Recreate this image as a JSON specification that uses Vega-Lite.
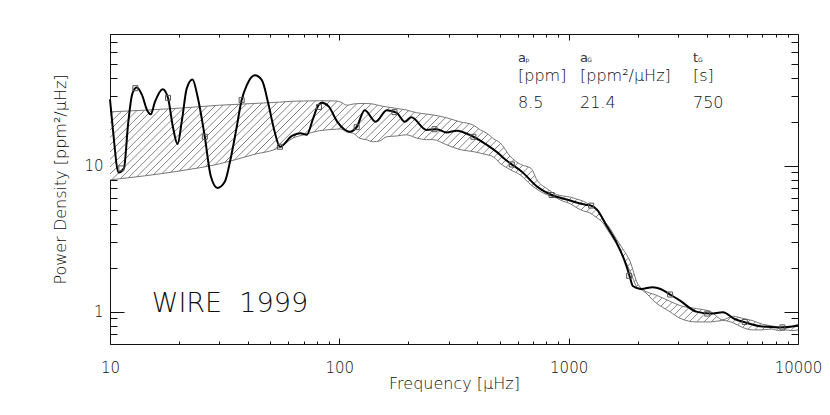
{
"$schema":"https://vega.github.io/schema/vega-lite/v6.json",
"width":688,"height":310,
"autosize":{"type":"none"},
"padding":{"left":110,"top":34,"right":32,"bottom":71},
"background":"white",
"config":{"view":{"stroke":null},"axis":{"domainColor":"#111","tickColor":"#111","domainWidth":1,"tickWidth":1,"labelFont":"DejaVu Sans","titleFont":"DejaVu Sans","labelFontSize":15,"titleFontSize":16,"labelColor":"#111","titleColor":"#111","titleFontWeight":200,"labelFontWeight":200,"grid":false,"zindex":1}},
"datasets":{
"band":[{"f":10,"lo":8.0,"hi":23.4},{"f":20,"lo":9.2,"hi":24.8},{"f":30,"lo":10.3,"hi":26.0},{"f":42,"lo":11.9,"hi":26.7},{"f":55,"lo":13.4,"hi":27.3},{"f":63,"lo":15.5,"hi":27.7},{"f":70,"lo":16.3,"hi":27.8},{"f":82,"lo":17.4,"hi":27.9},{"f":97,"lo":17.8,"hi":27.8},{"f":101,"lo":17.9,"hi":27.4},{"f":108,"lo":17.0,"hi":26.0},{"f":115,"lo":16.7,"hi":26.5},{"f":123,"lo":15.4,"hi":26.7},{"f":131,"lo":15.1,"hi":26.7},{"f":140,"lo":14.6,"hi":26.5},{"f":150,"lo":14.8,"hi":25.8},{"f":161,"lo":15.8,"hi":25.3},{"f":178,"lo":16.0,"hi":24.7},{"f":196,"lo":16.3,"hi":24.1},{"f":217,"lo":15.5,"hi":23.1},{"f":240,"lo":15.1,"hi":22.6},{"f":256,"lo":15.1,"hi":22.3},{"f":294,"lo":13.9,"hi":21.3},{"f":336,"lo":12.9,"hi":20.0},{"f":384,"lo":12.5,"hi":19.0},{"f":412,"lo":12.2,"hi":17.6},{"f":440,"lo":11.9,"hi":16.7},{"f":470,"lo":11.5,"hi":15.3},{"f":502,"lo":10.4,"hi":14.4},{"f":556,"lo":9.4,"hi":11.6},{"f":618,"lo":8.6,"hi":10.2},{"f":685,"lo":7.4,"hi":9.6},{"f":727,"lo":6.9,"hi":8.0},{"f":800,"lo":6.35,"hi":7.0},{"f":887,"lo":6.0,"hi":6.35},{"f":946,"lo":5.71,"hi":6.2},{"f":1016,"lo":5.5,"hi":6.1},{"f":1087,"lo":5.14,"hi":5.9},{"f":1160,"lo":4.9,"hi":5.71},{"f":1236,"lo":4.76,"hi":5.4},{"f":1300,"lo":4.5,"hi":5.15},{"f":1408,"lo":4.07,"hi":4.3},{"f":1500,"lo":3.5,"hi":3.8},{"f":1618,"lo":2.89,"hi":3.13},{"f":1720,"lo":2.4,"hi":2.7},{"f":1850,"lo":1.9,"hi":2.22},{"f":2000,"lo":1.45,"hi":1.55},{"f":2100,"lo":1.40,"hi":1.42},{"f":2400,"lo":1.15,"hi":1.30},{"f":2760,"lo":1.0,"hi":1.18},{"f":3060,"lo":0.9,"hi":1.1},{"f":3600,"lo":0.85,"hi":1.05},{"f":4155,"lo":0.85,"hi":1.0},{"f":4700,"lo":0.87,"hi":0.88},{"f":5200,"lo":0.84,"hi":0.93},{"f":5720,"lo":0.78,"hi":0.9},{"f":6300,"lo":0.75,"hi":0.87},{"f":7000,"lo":0.75,"hi":0.82},{"f":7650,"lo":0.76,"hi":0.80},{"f":8300,"lo":0.74,"hi":0.78},{"f":8850,"lo":0.75,"hi":0.77},{"f":9400,"lo":0.74,"hi":0.79},{"f":10000,"lo":0.75,"hi":0.82}],
"curve":[{"f":10,"p":28.5},{"f":10.3,"p":17.6},{"f":10.9,"p":9.0},{"f":11.5,"p":9.6},{"f":12.0,"p":19.5},{"f":12.5,"p":31},{"f":13.07,"p":34.4},{"f":13.8,"p":30.5},{"f":14.5,"p":24.1},{"f":15.05,"p":22.5},{"f":15.7,"p":27.4},{"f":16.97,"p":33.5},{"f":17.9,"p":29.2},{"f":18.8,"p":18.5},{"f":19.7,"p":14.1},{"f":20.6,"p":20.6},{"f":21.6,"p":33.8},{"f":22.9,"p":39},{"f":24.1,"p":29.7},{"f":25.9,"p":15.8},{"f":27.5,"p":8.5},{"f":29.4,"p":7.05},{"f":31.7,"p":7.8},{"f":33.5,"p":11.0},{"f":35.5,"p":17.6},{"f":37.5,"p":28.2},{"f":39.5,"p":35.7},{"f":42.8,"p":41.7},{"f":46,"p":38.5},{"f":49,"p":26.7},{"f":52,"p":17.6},{"f":55.1,"p":13.5},{"f":62.1,"p":16.0},{"f":67.5,"p":16.7},{"f":72.1,"p":16.3},{"f":76.5,"p":20.6},{"f":80,"p":25.0},{"f":83.9,"p":27.0},{"f":90,"p":25.4},{"f":98,"p":20},{"f":105,"p":17.8},{"f":111,"p":17.1},{"f":119,"p":18.4},{"f":129,"p":24},{"f":144,"p":20},{"f":161,"p":24},{"f":178,"p":23},{"f":193,"p":20},{"f":206,"p":21.5},{"f":240,"p":17.6},{"f":266,"p":17.8},{"f":294,"p":16.9},{"f":325,"p":17.4},{"f":384,"p":15.8},{"f":440,"p":13.9},{"f":502,"p":11.9},{"f":520,"p":11.3},{"f":635,"p":8.9},{"f":727,"p":7.2},{"f":843,"p":6.3},{"f":979,"p":5.87},{"f":1175,"p":5.42},{"f":1253,"p":5.33},{"f":1329,"p":5.0},{"f":1466,"p":3.86},{"f":1618,"p":2.97},{"f":1786,"p":2.06},{"f":1850,"p":1.72},{"f":1903,"p":1.50},{"f":2071,"p":1.43},{"f":2325,"p":1.47},{"f":2518,"p":1.43},{"f":2768,"p":1.31},{"f":3060,"p":1.19},{"f":3600,"p":1.0},{"f":4155,"p":0.97},{"f":4700,"p":0.99},{"f":5300,"p":0.89},{"f":5945,"p":0.84},{"f":7000,"p":0.79},{"f":8300,"p":0.78},{"f":10000,"p":0.80}],
"pts":[{"f":11.2,"p":9.6},{"f":12.9,"p":34},{"f":17.9,"p":29.2},{"f":25.9,"p":15.8},{"f":37.5,"p":28.2},{"f":55.1,"p":13.5},{"f":81.5,"p":25.3},{"f":119,"p":18.4},{"f":174,"p":23.3},{"f":260,"p":17.8},{"f":384,"p":15.8},{"f":565,"p":10.2},{"f":843,"p":6.3},{"f":1253,"p":5.33},{"f":1835,"p":1.76},{"f":2768,"p":1.31},{"f":4021,"p":0.97},{"f":5860,"p":0.85},{"f":8550,"p":0.78}]
},
"resolve":{"axis":{"x":"independent","y":"independent"}},
"layer":[
{"data":{"name":"band"},
 "mark":{"type":"area","interpolate":"monotone","stroke":null,"fill":{"gradient":"linear","x1":0,"y1":0,"x2":1.2002,"y2":0.4015,"stops":[
{"offset":0,"color":"#777"},{"offset":0.001,"color":"#fff"},
{"offset":0.007,"color":"#fff"},{"offset":0.008,"color":"#777"},{"offset":0.009,"color":"#fff"},
{"offset":0.015,"color":"#fff"},{"offset":0.016,"color":"#777"},{"offset":0.017,"color":"#fff"},
{"offset":0.023,"color":"#fff"},{"offset":0.024,"color":"#777"},{"offset":0.025,"color":"#fff"},
{"offset":0.031,"color":"#fff"},{"offset":0.032,"color":"#777"},{"offset":0.033,"color":"#fff"},
{"offset":0.039,"color":"#fff"},{"offset":0.040,"color":"#777"},{"offset":0.041,"color":"#fff"},
{"offset":0.047,"color":"#fff"},{"offset":0.048,"color":"#777"},{"offset":0.049,"color":"#fff"},
{"offset":0.055,"color":"#fff"},{"offset":0.056,"color":"#777"},{"offset":0.057,"color":"#fff"},
{"offset":0.063,"color":"#fff"},{"offset":0.064,"color":"#777"},{"offset":0.065,"color":"#fff"},
{"offset":0.071,"color":"#fff"},{"offset":0.072,"color":"#777"},{"offset":0.073,"color":"#fff"},
{"offset":0.079,"color":"#fff"},{"offset":0.080,"color":"#777"},{"offset":0.081,"color":"#fff"},
{"offset":0.087,"color":"#fff"},{"offset":0.088,"color":"#777"},{"offset":0.089,"color":"#fff"},
{"offset":0.095,"color":"#fff"},{"offset":0.096,"color":"#777"},{"offset":0.097,"color":"#fff"},
{"offset":0.103,"color":"#fff"},{"offset":0.104,"color":"#777"},{"offset":0.105,"color":"#fff"},
{"offset":0.111,"color":"#fff"},{"offset":0.112,"color":"#777"},{"offset":0.113,"color":"#fff"},
{"offset":0.119,"color":"#fff"},{"offset":0.120,"color":"#777"},{"offset":0.121,"color":"#fff"},
{"offset":0.127,"color":"#fff"},{"offset":0.128,"color":"#777"},{"offset":0.129,"color":"#fff"},
{"offset":0.135,"color":"#fff"},{"offset":0.136,"color":"#777"},{"offset":0.137,"color":"#fff"},
{"offset":0.143,"color":"#fff"},{"offset":0.144,"color":"#777"},{"offset":0.145,"color":"#fff"},
{"offset":0.151,"color":"#fff"},{"offset":0.152,"color":"#777"},{"offset":0.153,"color":"#fff"},
{"offset":0.159,"color":"#fff"},{"offset":0.160,"color":"#777"},{"offset":0.161,"color":"#fff"},
{"offset":0.167,"color":"#fff"},{"offset":0.168,"color":"#777"},{"offset":0.169,"color":"#fff"},
{"offset":0.175,"color":"#fff"},{"offset":0.176,"color":"#777"},{"offset":0.177,"color":"#fff"},
{"offset":0.183,"color":"#fff"},{"offset":0.184,"color":"#777"},{"offset":0.185,"color":"#fff"},
{"offset":0.191,"color":"#fff"},{"offset":0.192,"color":"#777"},{"offset":0.193,"color":"#fff"},
{"offset":0.199,"color":"#fff"},{"offset":0.200,"color":"#777"},{"offset":0.201,"color":"#fff"},
{"offset":0.207,"color":"#fff"},{"offset":0.208,"color":"#777"},{"offset":0.209,"color":"#fff"},
{"offset":0.215,"color":"#fff"},{"offset":0.216,"color":"#777"},{"offset":0.217,"color":"#fff"},
{"offset":0.223,"color":"#fff"},{"offset":0.224,"color":"#777"},{"offset":0.225,"color":"#fff"},
{"offset":0.231,"color":"#fff"},{"offset":0.232,"color":"#777"},{"offset":0.233,"color":"#fff"},
{"offset":0.239,"color":"#fff"},{"offset":0.240,"color":"#777"},{"offset":0.241,"color":"#fff"},
{"offset":0.247,"color":"#fff"},{"offset":0.248,"color":"#777"},{"offset":0.249,"color":"#fff"},
{"offset":0.255,"color":"#fff"},{"offset":0.256,"color":"#777"},{"offset":0.257,"color":"#fff"},
{"offset":0.263,"color":"#fff"},{"offset":0.264,"color":"#777"},{"offset":0.265,"color":"#fff"},
{"offset":0.271,"color":"#fff"},{"offset":0.272,"color":"#777"},{"offset":0.273,"color":"#fff"},
{"offset":0.279,"color":"#fff"},{"offset":0.280,"color":"#777"},{"offset":0.281,"color":"#fff"},
{"offset":0.287,"color":"#fff"},{"offset":0.288,"color":"#777"},{"offset":0.289,"color":"#fff"},
{"offset":0.295,"color":"#fff"},{"offset":0.296,"color":"#777"},{"offset":0.297,"color":"#fff"},
{"offset":0.303,"color":"#fff"},{"offset":0.304,"color":"#777"},{"offset":0.305,"color":"#fff"},
{"offset":0.311,"color":"#fff"},{"offset":0.312,"color":"#777"},{"offset":0.313,"color":"#fff"},
{"offset":0.319,"color":"#fff"},{"offset":0.320,"color":"#777"},{"offset":0.321,"color":"#fff"},
{"offset":0.327,"color":"#fff"},{"offset":0.328,"color":"#777"},{"offset":0.329,"color":"#fff"},
{"offset":0.335,"color":"#fff"},{"offset":0.336,"color":"#777"},{"offset":0.337,"color":"#fff"},
{"offset":0.343,"color":"#fff"},{"offset":0.344,"color":"#777"},{"offset":0.345,"color":"#fff"},
{"offset":0.351,"color":"#fff"},{"offset":0.352,"color":"#777"},{"offset":0.353,"color":"#fff"},
{"offset":0.359,"color":"#fff"},{"offset":0.360,"color":"#777"},{"offset":0.361,"color":"#fff"},
{"offset":0.367,"color":"#fff"},{"offset":0.368,"color":"#777"},{"offset":0.369,"color":"#fff"},
{"offset":0.375,"color":"#fff"},{"offset":0.376,"color":"#777"},{"offset":0.377,"color":"#fff"},
{"offset":0.383,"color":"#fff"},{"offset":0.384,"color":"#777"},{"offset":0.385,"color":"#fff"},
{"offset":0.391,"color":"#fff"},{"offset":0.392,"color":"#777"},{"offset":0.393,"color":"#fff"},
{"offset":0.399,"color":"#fff"},{"offset":0.400,"color":"#777"},{"offset":0.401,"color":"#fff"},
{"offset":0.407,"color":"#fff"},{"offset":0.408,"color":"#777"},{"offset":0.409,"color":"#fff"},
{"offset":0.415,"color":"#fff"},{"offset":0.416,"color":"#777"},{"offset":0.417,"color":"#fff"},
{"offset":0.423,"color":"#fff"},{"offset":0.424,"color":"#777"},{"offset":0.425,"color":"#fff"},
{"offset":0.431,"color":"#fff"},{"offset":0.432,"color":"#777"},{"offset":0.433,"color":"#fff"},
{"offset":0.439,"color":"#fff"},{"offset":0.440,"color":"#777"},{"offset":0.441,"color":"#fff"},
{"offset":0.447,"color":"#fff"},{"offset":0.448,"color":"#777"},{"offset":0.449,"color":"#fff"},
{"offset":0.455,"color":"#fff"},{"offset":0.456,"color":"#777"},{"offset":0.457,"color":"#fff"},
{"offset":0.463,"color":"#fff"},{"offset":0.464,"color":"#777"},{"offset":0.465,"color":"#fff"},
{"offset":0.471,"color":"#fff"},{"offset":0.472,"color":"#777"},{"offset":0.473,"color":"#fff"},
{"offset":0.479,"color":"#fff"},{"offset":0.480,"color":"#777"},{"offset":0.481,"color":"#fff"},
{"offset":0.487,"color":"#fff"},{"offset":0.488,"color":"#777"},{"offset":0.489,"color":"#fff"},
{"offset":0.495,"color":"#fff"},{"offset":0.496,"color":"#777"},{"offset":0.497,"color":"#fff"},
{"offset":0.503,"color":"#fff"},{"offset":0.504,"color":"#777"},{"offset":0.505,"color":"#fff"},
{"offset":0.511,"color":"#fff"},{"offset":0.512,"color":"#777"},{"offset":0.513,"color":"#fff"},
{"offset":0.519,"color":"#fff"},{"offset":0.520,"color":"#777"},{"offset":0.521,"color":"#fff"},
{"offset":0.527,"color":"#fff"},{"offset":0.528,"color":"#777"},{"offset":0.529,"color":"#fff"},
{"offset":0.535,"color":"#fff"},{"offset":0.536,"color":"#777"},{"offset":0.537,"color":"#fff"},
{"offset":0.543,"color":"#fff"},{"offset":0.544,"color":"#777"},{"offset":0.545,"color":"#fff"},
{"offset":0.551,"color":"#fff"},{"offset":0.552,"color":"#777"},{"offset":0.553,"color":"#fff"},
{"offset":0.559,"color":"#fff"},{"offset":0.560,"color":"#777"},{"offset":0.561,"color":"#fff"},
{"offset":0.567,"color":"#fff"},{"offset":0.568,"color":"#777"},{"offset":0.569,"color":"#fff"},
{"offset":0.575,"color":"#fff"},{"offset":0.576,"color":"#777"},{"offset":0.577,"color":"#fff"},
{"offset":0.583,"color":"#fff"},{"offset":0.584,"color":"#777"},{"offset":0.585,"color":"#fff"},
{"offset":0.591,"color":"#fff"},{"offset":0.592,"color":"#777"},{"offset":0.593,"color":"#fff"},
{"offset":0.599,"color":"#fff"},{"offset":0.600,"color":"#777"},{"offset":0.601,"color":"#fff"},
{"offset":0.607,"color":"#fff"},{"offset":0.608,"color":"#777"},{"offset":0.609,"color":"#fff"},
{"offset":0.615,"color":"#fff"},{"offset":0.616,"color":"#777"},{"offset":0.617,"color":"#fff"},
{"offset":0.623,"color":"#fff"},{"offset":0.624,"color":"#777"},{"offset":0.625,"color":"#fff"},
{"offset":0.631,"color":"#fff"},{"offset":0.632,"color":"#777"},{"offset":0.633,"color":"#fff"},
{"offset":0.639,"color":"#fff"},{"offset":0.640,"color":"#777"},{"offset":0.641,"color":"#fff"},
{"offset":0.647,"color":"#fff"},{"offset":0.648,"color":"#777"},{"offset":0.649,"color":"#fff"},
{"offset":0.655,"color":"#fff"},{"offset":0.656,"color":"#777"},{"offset":0.657,"color":"#fff"},
{"offset":0.663,"color":"#fff"},{"offset":0.664,"color":"#777"},{"offset":0.665,"color":"#fff"},
{"offset":0.671,"color":"#fff"},{"offset":0.672,"color":"#777"},{"offset":0.673,"color":"#fff"},
{"offset":0.679,"color":"#fff"},{"offset":0.680,"color":"#777"},{"offset":0.681,"color":"#fff"},
{"offset":0.687,"color":"#fff"},{"offset":0.688,"color":"#777"},{"offset":0.689,"color":"#fff"},
{"offset":0.695,"color":"#fff"},{"offset":0.696,"color":"#777"},{"offset":0.697,"color":"#fff"},
{"offset":0.703,"color":"#fff"},{"offset":0.704,"color":"#777"},{"offset":0.705,"color":"#fff"},
{"offset":0.711,"color":"#fff"},{"offset":0.712,"color":"#777"},{"offset":0.713,"color":"#fff"},
{"offset":0.719,"color":"#fff"},{"offset":0.720,"color":"#777"},{"offset":0.721,"color":"#fff"},
{"offset":0.727,"color":"#fff"},{"offset":0.728,"color":"#777"},{"offset":0.729,"color":"#fff"},
{"offset":0.735,"color":"#fff"},{"offset":0.736,"color":"#777"},{"offset":0.737,"color":"#fff"},
{"offset":0.743,"color":"#fff"},{"offset":0.744,"color":"#777"},{"offset":0.745,"color":"#fff"},
{"offset":0.751,"color":"#fff"},{"offset":0.752,"color":"#777"},{"offset":0.753,"color":"#fff"},
{"offset":0.759,"color":"#fff"},{"offset":0.760,"color":"#777"},{"offset":0.761,"color":"#fff"},
{"offset":0.767,"color":"#fff"},{"offset":0.768,"color":"#777"},{"offset":0.769,"color":"#fff"},
{"offset":0.775,"color":"#fff"},{"offset":0.776,"color":"#777"},{"offset":0.777,"color":"#fff"},
{"offset":0.783,"color":"#fff"},{"offset":0.784,"color":"#777"},{"offset":0.785,"color":"#fff"},
{"offset":0.791,"color":"#fff"},{"offset":0.792,"color":"#777"},{"offset":0.793,"color":"#fff"},
{"offset":0.799,"color":"#fff"},{"offset":0.800,"color":"#777"},{"offset":0.801,"color":"#fff"},
{"offset":0.807,"color":"#fff"},{"offset":0.808,"color":"#777"},{"offset":0.809,"color":"#fff"},
{"offset":0.815,"color":"#fff"},{"offset":0.816,"color":"#777"},{"offset":0.817,"color":"#fff"},
{"offset":0.823,"color":"#fff"},{"offset":0.824,"color":"#777"},{"offset":0.825,"color":"#fff"},
{"offset":0.831,"color":"#fff"},{"offset":0.832,"color":"#777"},{"offset":0.833,"color":"#fff"},
{"offset":0.839,"color":"#fff"},{"offset":0.840,"color":"#777"},{"offset":0.841,"color":"#fff"},
{"offset":0.847,"color":"#fff"},{"offset":0.848,"color":"#777"},{"offset":0.849,"color":"#fff"},
{"offset":0.855,"color":"#fff"},{"offset":0.856,"color":"#777"},{"offset":0.857,"color":"#fff"},
{"offset":0.863,"color":"#fff"},{"offset":0.864,"color":"#777"},{"offset":0.865,"color":"#fff"},
{"offset":0.871,"color":"#fff"},{"offset":0.872,"color":"#777"},{"offset":0.873,"color":"#fff"},
{"offset":0.879,"color":"#fff"},{"offset":0.880,"color":"#777"},{"offset":0.881,"color":"#fff"},
{"offset":0.887,"color":"#fff"},{"offset":0.888,"color":"#777"},{"offset":0.889,"color":"#fff"},
{"offset":0.895,"color":"#fff"},{"offset":0.896,"color":"#777"},{"offset":0.897,"color":"#fff"},
{"offset":0.903,"color":"#fff"},{"offset":0.904,"color":"#777"},{"offset":0.905,"color":"#fff"},
{"offset":0.911,"color":"#fff"},{"offset":0.912,"color":"#777"},{"offset":0.913,"color":"#fff"},
{"offset":0.919,"color":"#fff"},{"offset":0.920,"color":"#777"},{"offset":0.921,"color":"#fff"},
{"offset":0.927,"color":"#fff"},{"offset":0.928,"color":"#777"},{"offset":0.929,"color":"#fff"},
{"offset":0.935,"color":"#fff"},{"offset":0.936,"color":"#777"},{"offset":0.937,"color":"#fff"},
{"offset":0.943,"color":"#fff"},{"offset":0.944,"color":"#777"},{"offset":0.945,"color":"#fff"},
{"offset":0.951,"color":"#fff"},{"offset":0.952,"color":"#777"},{"offset":0.953,"color":"#fff"},
{"offset":0.959,"color":"#fff"},{"offset":0.960,"color":"#777"},{"offset":0.961,"color":"#fff"},
{"offset":0.967,"color":"#fff"},{"offset":0.968,"color":"#777"},{"offset":0.969,"color":"#fff"},
{"offset":0.975,"color":"#fff"},{"offset":0.976,"color":"#777"},{"offset":0.977,"color":"#fff"},
{"offset":0.983,"color":"#fff"},{"offset":0.984,"color":"#777"},{"offset":0.985,"color":"#fff"},
{"offset":0.991,"color":"#fff"},{"offset":0.992,"color":"#777"},{"offset":0.993,"color":"#fff"},
{"offset":0.999,"color":"#fff"},{"offset":1,"color":"#777"}]}},
 "encoding":{
  "x":{"field":"f","type":"quantitative","scale":{"type":"log","domain":[10,10000],"nice":false},
       "axis":{"orient":"bottom","values":[10,100,1000,10000],"format":"d","tickSize":-6,"labelPadding":22,"labelFlush":false,"labelOverlap":false,"title":"Frequency [µHz]","titleY":39,"titleBaseline":"middle"}},
  "y":{"field":"lo","type":"quantitative","scale":{"type":"log","domain":[0.6,80],"nice":false},
       "axis":{"orient":"left","values":[1,10],"format":"d","tickSize":-14,"labelPadding":21,"labelOverlap":false,"labelFlush":false,"title":"Power Density [ppm²/µHz]","titleX":-50,"titleY":145,"titleBaseline":"middle"}},
  "y2":{"field":"hi"}}},
{"data":{"name":"band"},
 "mark":{"type":"line","interpolate":"monotone","stroke":"#777","strokeWidth":1},
 "encoding":{
  "x":{"field":"f","type":"quantitative","axis":{"orient":"bottom","values":[20,30,40,50,60,70,80,90,200,300,400,500,600,700,800,900,2000,3000,4000,5000,6000,7000,8000,9000],"tickSize":-3,"labels":false,"domain":false,"title":null}},
  "y":{"field":"hi","type":"quantitative","axis":{"orient":"left","values":[0.7,0.8,0.9,2,3,4,5,6,7,8,9,20,30,40,50,60,70],"tickSize":-7,"labels":false,"domain":false,"title":null}}}},
{"data":{"name":"band"},
 "mark":{"type":"line","interpolate":"monotone","stroke":"#777","strokeWidth":1},
 "encoding":{
  "x":{"field":"f","type":"quantitative","axis":{"orient":"top","values":[10,100,1000,10000],"tickSize":-6,"labels":false,"title":null}},
  "y":{"field":"lo","type":"quantitative","axis":{"orient":"right","values":[1,10],"tickSize":-14,"labels":false,"title":null}}}},
{"data":{"name":"curve"},
 "mark":{"type":"line","interpolate":"monotone","stroke":"#000","strokeWidth":2},
 "encoding":{
  "x":{"field":"f","type":"quantitative","axis":{"orient":"top","values":[20,30,40,50,60,70,80,90,200,300,400,500,600,700,800,900,2000,3000,4000,5000,6000,7000,8000,9000],"tickSize":-3,"labels":false,"domain":false,"title":null}},
  "y":{"field":"p","type":"quantitative","axis":{"orient":"right","values":[0.7,0.8,0.9,2,3,4,5,6,7,8,9,20,30,40,50,60,70],"tickSize":-7,"labels":false,"domain":false,"title":null}}}},
{"data":{"name":"pts"},
 "mark":{"type":"point","shape":"square","size":25,"filled":false,"stroke":"#555","strokeWidth":1,"opacity":1},
 "encoding":{"x":{"field":"f","type":"quantitative","axis":null},"y":{"field":"p","type":"quantitative","axis":null}}},
{"data":{"values":[{"t":"WIRE\u00a0 1999","f":15.2,"p":1.0}]},
 "mark":{"type":"text","align":"left","baseline":"alphabetic","font":"DejaVu Sans","fontWeight":200,"fontSize":27,"color":"#111"},
 "encoding":{"x":{"field":"f","type":"quantitative","axis":null},"y":{"field":"p","type":"quantitative","axis":null},"text":{"field":"t"}}},
{"data":{"values":[{"t":"[ppm]","f":601.3,"p":38.1},{"t":"[ppm²/µHz]","f":1120.5,"p":38.1},{"t":"[s]","f":3484,"p":38.1},{"t":"8.5","f":601.3,"p":24.9},{"t":"21.4","f":1120.5,"p":24.9},{"t":"750","f":3484,"p":24.9}]},
 "mark":{"type":"text","align":"left","baseline":"alphabetic","font":"DejaVu Sans","fontWeight":200,"fontSize":16,"color":"#111"},
 "encoding":{"x":{"field":"f","type":"quantitative","axis":null},"y":{"field":"p","type":"quantitative","axis":null},"text":{"field":"t"}}},
{"data":{"values":[{"t":"a","f":601.3,"p":51.4},{"t":"a","f":1120.5,"p":51.4},{"t":"t","f":3484,"p":51.4}]},
 "mark":{"type":"text","align":"left","baseline":"alphabetic","font":"DejaVu Sans","fontSize":13,"color":"#333"},
 "encoding":{"x":{"field":"f","type":"quantitative","axis":null},"y":{"field":"p","type":"quantitative","axis":null},"text":{"field":"t"}}},
{"data":{"values":[{"t":"p","f":648,"p":51.4},{"t":"G","f":1205,"p":51.4},{"t":"G","f":3660,"p":51.4}]},
 "mark":{"type":"text","align":"left","baseline":"alphabetic","font":"DejaVu Sans","fontSize":6,"color":"#333"},
 "encoding":{"x":{"field":"f","type":"quantitative","axis":null},"y":{"field":"p","type":"quantitative","axis":null},"text":{"field":"t"}}}
]
}
